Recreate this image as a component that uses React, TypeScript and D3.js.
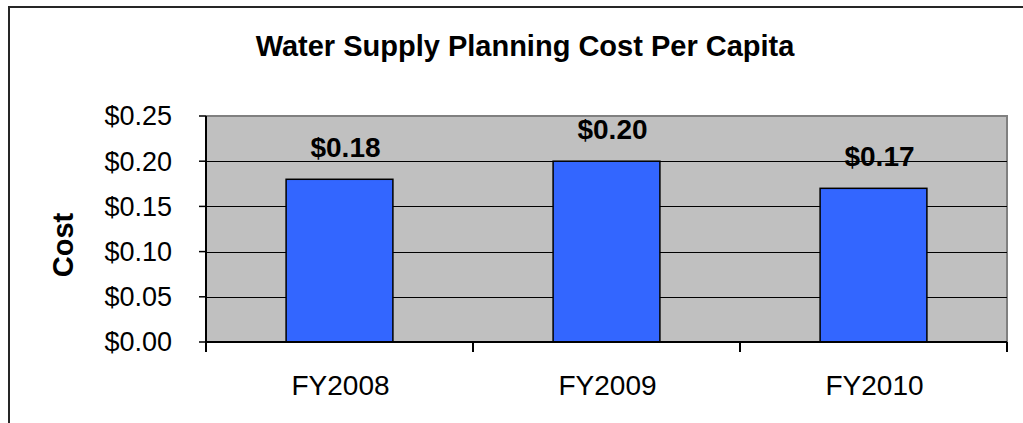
import React from "react";
import * as d3 from "d3";

const categories = ["FY2008", "FY2009", "FY2010"];
const costValues = [0.18, 0.2, 0.17];
const yTickValues = [0, 0.05, 0.1, 0.15, 0.2, 0.25];
const titleText = "Water Supply Planning Cost Per Capita";
const yAxisTitle = "Cost";

const W = 1023;
const H = 423;
const plot = { left: 206, right: 1007, top: 116, bottom: 342 };
const FONT = "'Liberation Sans', Arial, sans-serif";

export default function App() {
  const x = d3.scaleBand<string>().domain(categories).range([plot.left, plot.right]).padding(0);
  const y = d3.scaleLinear().domain([0, 0.25]).range([plot.bottom, plot.top]);
  const step = x.step();
  const barW = step * 0.4;
  const fmt = d3.format("$.2f");
  const boundaries = d3.range(categories.length + 1).map((i) => plot.left + i * step);

  return (
    <svg
      width={W}
      height={H}
      style={{ position: "absolute", left: 0, top: 0, background: "#fff" }}
      fontFamily={FONT}
    >
      {/* outer chart border */}
      <path d={`M9,${H} L9,7 L${W},7`} fill="none" stroke="#262626" strokeWidth={2} />

      {/* title */}
      <text x={525} y={56} textAnchor="middle" fontSize={29} fontWeight="bold" fill="#000">
        {titleText}
      </text>

      {/* plot background */}
      <rect
        x={plot.left}
        y={plot.top}
        width={plot.right - plot.left}
        height={plot.bottom - plot.top}
        fill="#C0C0C0"
      />
      {/* plot border top/right (gray) */}
      <path
        d={`M${plot.left},${plot.top} L${plot.right},${plot.top} L${plot.right},${plot.bottom}`}
        fill="none"
        stroke="#808080"
        strokeWidth={2}
      />

      {/* gridlines */}
      {yTickValues
        .filter((t) => t > 0 && t < 0.25)
        .map((t) => (
          <line
            key={"g" + t}
            x1={plot.left}
            x2={plot.right}
            y1={Math.round(y(t)) + 0.5}
            y2={Math.round(y(t)) + 0.5}
            stroke="#000"
            strokeWidth={1}
          />
        ))}

      {/* bars */}
      {categories.map((c, i) => {
        const cx = (x(c) as number) + step / 2;
        return (
          <rect
            key={c}
            x={cx - barW / 2}
            y={y(costValues[i])}
            width={barW}
            height={plot.bottom - y(costValues[i])}
            fill="#3366FF"
            stroke="#000"
            strokeWidth={1.5}
          />
        );
      })}

      {/* y axis */}
      <line x1={plot.left} x2={plot.left} y1={plot.top} y2={plot.bottom + 10} stroke="#000" strokeWidth={2} />
      {yTickValues.map((t) => (
        <g key={"t" + t}>
          <line x1={plot.left - 7} x2={plot.left} y1={y(t)} y2={y(t)} stroke="#000" strokeWidth={1.5} />
          <text
            x={172}
            y={y(t)}
            dy="0.35em"
            textAnchor="end"
            fontSize={27}
            fill="#000"
          >
            {fmt(t)}
          </text>
        </g>
      ))}

      {/* x axis */}
      <line x1={plot.left} x2={plot.right} y1={plot.bottom} y2={plot.bottom} stroke="#000" strokeWidth={2} />
      {boundaries.map((bx, i) => (
        <line key={"xt" + i} x1={bx} x2={bx} y1={plot.bottom} y2={plot.bottom + 10} stroke="#000" strokeWidth={2} />
      ))}
      {categories.map((c) => (
        <text
          key={"xl" + c}
          x={(x(c) as number) + step / 2 + 1}
          y={395}
          textAnchor="middle"
          fontSize={28}
          fill="#000"
        >
          {c}
        </text>
      ))}

      {/* data labels */}
      {categories.map((c, i) => (
        <text
          key={"dl" + c}
          x={(x(c) as number) + step / 2 + 6}
          y={y(costValues[i]) - 22}
          textAnchor="middle"
          fontSize={28}
          fontWeight="bold"
          fill="#000"
        >
          {fmt(costValues[i])}
        </text>
      ))}

      {/* y axis title */}
      <text
        transform="translate(73,245) rotate(-90)"
        textAnchor="middle"
        fontSize={29}
        fontWeight="bold"
        fill="#000"
      >
        {yAxisTitle}
      </text>
    </svg>
  );
}
